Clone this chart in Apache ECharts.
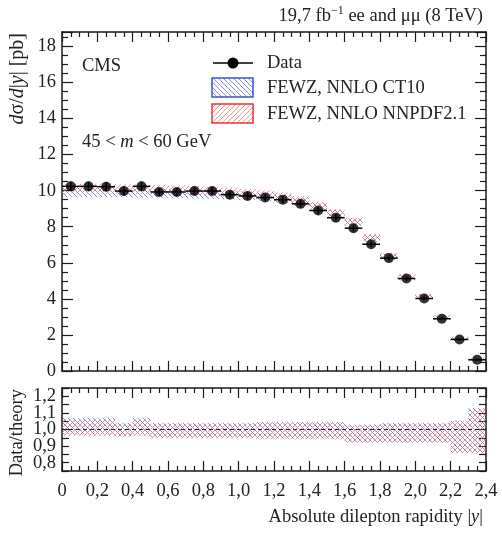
<!DOCTYPE html>
<html>
<head>
<meta charset="utf-8">
<script src="https://cdn.jsdelivr.net/npm/echarts@6/dist/echarts.min.js"></script>
<style>html,body{margin:0;padding:0;background:#fff}#c{width:502px;height:533px}</style>
</head>
<body>
<div id="c"></div>
<script>
// ---- data ----
const binEdges = [0,0.1,0.2,0.3,0.4,0.5,0.6,0.7,0.8,0.9,1.0,1.1,1.2,1.3,1.4,1.5,1.6,1.7,1.8,1.9,2.0,2.1,2.2,2.3,2.4];
const dataVal = [10.24,10.24,10.22,9.98,10.24,9.93,9.93,9.98,9.98,9.78,9.71,9.62,9.5,9.27,8.9,8.5,7.92,7.03,6.26,5.13,4.02,2.9,1.75,0.62];
const dataErr = [0.25,0.25,0.25,0.25,0.25,0.22,0.22,0.22,0.22,0.22,0.2,0.2,0.2,0.2,0.2,0.2,0.18,0.16,0.15,0.13,0.11,0.09,0.07,0.05];
const ct10Val = [9.9,9.9,9.9,9.88,9.87,9.86,9.84,9.82,9.8,9.76,9.72,9.65,9.55,9.38,9.1,8.72,8.26,7.36,6.33,5.18,4.11,2.95,1.79,0.66];
const ct10Err = [0.26,0.26,0.26,0.25,0.26,0.25,0.25,0.25,0.25,0.24,0.24,0.24,0.23,0.23,0.22,0.21,0.2,0.2,0.18,0.16,0.14,0.13,0.1,0.06];
const nnpdfVal = [10.12,10.12,10.12,10.1,10.08,10.06,10.04,10.01,9.97,9.92,9.86,9.78,9.66,9.47,9.17,8.78,8.3,7.42,6.38,5.22,4.13,2.97,1.8,0.67];
const nnpdfErr = [0.27,0.27,0.27,0.26,0.27,0.26,0.26,0.26,0.25,0.25,0.24,0.24,0.23,0.23,0.22,0.21,0.2,0.19,0.17,0.15,0.14,0.12,0.1,0.06];
const ct10RatioLo = [0.97,0.97,0.97,0.96,0.97,0.95,0.95,0.95,0.95,0.95,0.95,0.945,0.945,0.945,0.945,0.945,0.925,0.925,0.925,0.925,0.925,0.925,0.86,0.86];
const ct10RatioHi = [1.07,1.07,1.07,1.04,1.07,1.04,1.04,1.04,1.04,1.04,1.04,1.045,1.045,1.045,1.045,1.045,1.03,1.03,1.04,1.04,1.04,1.04,1.055,1.13];
const nnpdfRatioLo = [0.96,0.96,0.96,0.955,0.96,0.945,0.945,0.945,0.945,0.945,0.945,0.94,0.94,0.94,0.94,0.94,0.92,0.92,0.92,0.92,0.92,0.92,0.855,0.855];
const nnpdfRatioHi = [1.06,1.06,1.06,1.035,1.06,1.035,1.035,1.035,1.035,1.035,1.035,1.04,1.04,1.04,1.04,1.04,1.025,1.025,1.035,1.035,1.035,1.035,1.05,1.12];

const FONT = 'Liberation Serif';
const FS = 18.5;

function hatch(color, dir) {
  const s = 5;
  const c = document.createElement('canvas');
  c.width = s; c.height = s;
  const g = c.getContext('2d');
  g.strokeStyle = color; g.lineWidth = 1;
  g.beginPath();
  if (dir > 0) {
    g.moveTo(0, s); g.lineTo(s, 0);
    g.moveTo(-1, 1); g.lineTo(1, -1);
    g.moveTo(s - 1, s + 1); g.lineTo(s + 1, s - 1);
  } else {
    g.moveTo(0, 0); g.lineTo(s, s);
    g.moveTo(-1, s - 1); g.lineTo(1, s + 1);
    g.moveTo(s - 1, -1); g.lineTo(s + 1, 1);
  }
  g.stroke();
  return { image: c, repeat: 'repeat' };
}
const blueHatch = hatch('rgba(90,105,215,0.75)', -1);
const redHatch = hatch('rgba(250,110,90,0.75)', 1);

function bandData(lo, hi) {
  return lo.map((l, i) => [binEdges[i], binEdges[i + 1], l, hi[i]]);
}
function bandSeries(data, fill, xi, yi) {
  return {
    type: 'custom', xAxisIndex: xi, yAxisIndex: yi, data: data,
    encode: { x: [0, 1], y: [2, 3] }, silent: true,
    renderItem: function (params, api) {
      const p0 = api.coord([api.value(0), api.value(3)]);
      const p1 = api.coord([api.value(1), api.value(2)]);
      return { type: 'rect', shape: { x: p0[0], y: p0[1], width: p1[0] - p0[0], height: p1[1] - p0[1] }, style: { fill: fill } };
    }
  };
}
const ct10Band = bandData(ct10Val.map((v, i) => v - ct10Err[i]), ct10Val.map((v, i) => v + ct10Err[i]));
const nnpdfBand = bandData(nnpdfVal.map((v, i) => v - nnpdfErr[i]), nnpdfVal.map((v, i) => v + nnpdfErr[i]));
const ct10RBand = bandData(ct10RatioLo, ct10RatioHi);
const nnpdfRBand = bandData(nnpdfRatioLo, nnpdfRatioHi);

const dataPts = dataVal.map((v, i) => [(binEdges[i] + binEdges[i + 1]) / 2, v]);
const errData = dataVal.map((v, i) => [binEdges[i], binEdges[i + 1], v, v - dataErr[i], v + dataErr[i]]);

const lineCol = '#1a1a1a';
function xAx(grid, pos, labels) {
  return {
    type: 'value', gridIndex: grid, position: pos, min: 0, max: 2.4, interval: 0.2,
    axisLine: { onZero: false, lineStyle: { color: lineCol, width: 1.5 } },
    axisTick: { inside: true, length: 10, lineStyle: { color: lineCol, width: 1.2 } },
    minorTick: { show: true, splitNumber: 4, length: 5, lineStyle: { color: lineCol, width: 1.2 } },
    splitLine: { show: false },
    axisLabel: labels ? {
      show: true, margin: 11, fontFamily: FONT, fontSize: FS, color: '#222',
      formatter: v => (Math.abs(v) < 1e-9 ? '0' : v.toFixed(1).replace('.', ','))
    } : { show: false }
  };
}
function yTop(pos, labels) {
  return {
    type: 'value', gridIndex: 0, position: pos, min: 0, max: 18.8, interval: 2,
    axisLine: { onZero: false, lineStyle: { color: lineCol, width: 1.5 } },
    axisTick: { inside: true, length: 11, lineStyle: { color: lineCol, width: 1.2 } },
    minorTick: { show: true, splitNumber: 4, length: 6, lineStyle: { color: lineCol, width: 1.2 } },
    splitLine: { show: false },
    axisLabel: labels ? {
      show: true, margin: 6, fontFamily: FONT, fontSize: FS, color: '#222',
      formatter: v => (Math.abs(v / 2 - Math.round(v / 2)) < 1e-6 ? String(Math.round(v)) : '')
    } : { show: false }
  };
}
function yBot(pos, labels) {
  return {
    type: 'value', gridIndex: 1, position: pos, min: 0.75, max: 1.25, interval: 0.05,
    axisLine: { onZero: false, lineStyle: { color: lineCol, width: 1.5 } },
    axisTick: { inside: true, length: 7, lineStyle: { color: lineCol, width: 1.2 } },
    minorTick: { show: false },
    splitLine: { show: false },
    axisLabel: labels ? {
      show: true, margin: 6, fontFamily: FONT, fontSize: FS, color: '#222',
      formatter: v => {
        const t = Math.round(v * 10);
        if (Math.abs(v * 10 - t) > 1e-6 || t < 8 || t > 12) return '';
        return (t / 10).toFixed(1).replace('.', ',');
      }
    } : { show: false }
  };
}
function txt(x, y, text, align, extra) {
  return Object.assign({ type: 'text', x: x, y: y, style: {
    text: text, font: FS + 'px ' + FONT, fill: '#222', align: align, verticalAlign: 'middle',
    textAlign: align, textVerticalAlign: 'middle',
    rich: { n: { fontFamily: FONT, fontSize: FS, fill: '#222' }, i: { fontFamily: FONT, fontSize: FS, fontStyle: 'italic', fill: '#222' } }
  } }, extra || {});
}

const option = {
  animation: false,
  backgroundColor: '#fff',
  grid: [
    { left: 62, right: 16, top: 32, height: 339 },
    { left: 62, right: 16, top: 388, height: 83 }
  ],
  xAxis: [xAx(0, 'bottom', false), xAx(0, 'top', false), xAx(1, 'bottom', true), xAx(1, 'top', false)],
  yAxis: [yTop('left', true), yTop('right', false), yBot('left', true), yBot('right', false)],
  series: [
    bandSeries(ct10Band, blueHatch, 0, 0),
    bandSeries(nnpdfBand, redHatch, 0, 0),
    bandSeries(ct10RBand, blueHatch, 2, 2),
    bandSeries(nnpdfRBand, redHatch, 2, 2),
    {
      type: 'line', xAxisIndex: 2, yAxisIndex: 2, data: [[0, 1], [2.4, 1]], symbol: 'none', silent: true,
      lineStyle: { color: '#222', width: 1, type: [4, 3] }
    },
    {
      type: 'custom', xAxisIndex: 0, yAxisIndex: 0, data: errData, silent: true,
      encode: { x: [0, 1], y: [3, 4] },
      renderItem: function (params, api) {
        const a = api.coord([api.value(0), api.value(2)]);
        const b = api.coord([api.value(1), api.value(2)]);
        const cx = (a[0] + b[0]) / 2;
        const lo = api.coord([api.value(0), api.value(3)]);
        const hi = api.coord([api.value(0), api.value(4)]);
        const st = { stroke: '#000', lineWidth: 1.5 };
        return { type: 'group', children: [
          { type: 'line', shape: { x1: a[0], y1: a[1], x2: b[0], y2: b[1] }, style: st },
          { type: 'line', shape: { x1: cx, y1: lo[1], x2: cx, y2: hi[1] }, style: st }
        ] };
      }
    },
    {
      type: 'scatter', xAxisIndex: 0, yAxisIndex: 0, data: dataPts, symbol: 'circle', symbolSize: 10,
      itemStyle: { color: '#000' }, silent: true
    }
  ],
  graphic: [
    { type: 'text', x: 483, y: 16, style: {
      text: '{a|19,7 fb}{s|−1}{a| ee and μμ (8 TeV)}', align: 'right', verticalAlign: 'middle',
      textAlign: 'right', textVerticalAlign: 'middle', fill: '#222', font: FS + 'px ' + FONT,
      rich: { a: { fontFamily: FONT, fontSize: FS, lineHeight: 22, fill: '#222' },
              s: { fontFamily: FONT, fontSize: 12, lineHeight: 22, verticalAlign: 'top', fill: '#222' } }
    } },
    txt(82, 66, 'CMS', 'left'),
    txt(82, 142, '{n|45 < }{i|m}{n| < 60 GeV}', 'left'),
    // legend
    { type: 'line', shape: { x1: 213, y1: 63, x2: 253, y2: 63 }, style: { stroke: '#000', lineWidth: 1.5 } },
    { type: 'circle', shape: { cx: 233, cy: 63, r: 5.5 }, style: { fill: '#000' } },
    txt(267, 63, 'Data', 'left'),
    { type: 'rect', shape: { x: 212, y: 78, width: 41, height: 19 }, style: { fill: blueHatch, stroke: '#3a55c8', lineWidth: 1.5 } },
    txt(267, 88, 'FEWZ, NNLO CT10', 'left'),
    { type: 'rect', shape: { x: 212, y: 104, width: 41, height: 19 }, style: { fill: redHatch, stroke: '#ee3030', lineWidth: 1.5 } },
    txt(267, 114, 'FEWZ, NNLO NNPDF2.1', 'left'),
    // axis titles
    txt(18, 33, '{i|d}{n|σ/}{i|d}{n||}{i|y}{n|| [pb]}', 'right', { rotation: Math.PI / 2 }),
    txt(17, 389, 'Data/theory', 'right', { rotation: Math.PI / 2 }),
    txt(483, 517, '{n|Absolute dilepton rapidity |}{i|y}{n||}', 'right')
  ]
};
// make the y-title a bit larger, as in the reference
option.graphic[10].style.font = '20px ' + FONT;
option.graphic[10].style.rich = { n: { fontFamily: FONT, fontSize: 20, fill: '#222' }, i: { fontFamily: FONT, fontSize: 20, fontStyle: 'italic', fill: '#222' } };
const chart = echarts.init(document.getElementById('c'), null, { renderer: 'canvas' });
chart.setOption(option);
</script>
</body>
</html>
